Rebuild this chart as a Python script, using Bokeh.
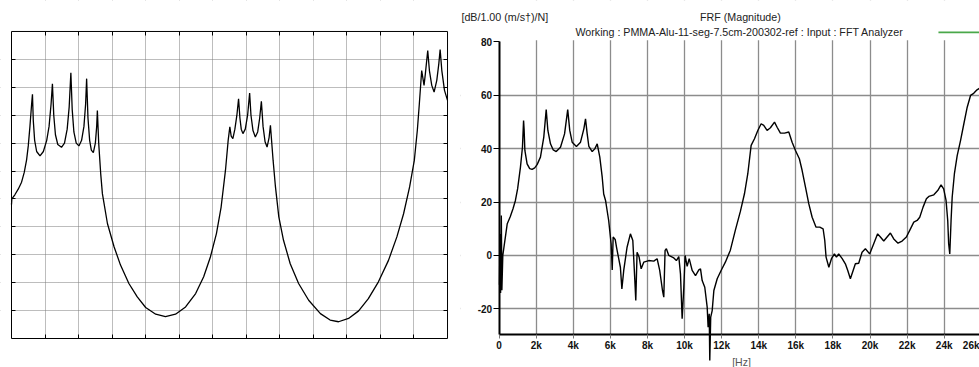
from bokeh.plotting import figure
from bokeh.models import FixedTicker, LinearAxis, BoxAnnotation, Label, Range1d
from bokeh.layouts import row
from bokeh.embed import file_html
from bokeh.resources import INLINE

# ---------------- data: left panel (model curve, arbitrary grid units) ----------------
model_x = [0.0, 0.01, 0.1, 0.2, 0.3, 0.38, 0.45, 0.5, 0.55, 0.6, 0.625,
           0.65, 0.69, 0.75, 0.85, 0.95, 1.05, 1.12, 1.18, 1.22,
           1.26, 1.31, 1.38, 1.49, 1.58, 1.66, 1.72, 1.77,
           1.81, 1.86, 1.93, 2.01, 2.09, 2.16, 2.21, 2.24,
           2.28, 2.33, 2.38, 2.44, 2.5, 2.54, 2.56,
           2.6, 2.66, 2.71, 2.86, 3.06, 3.25, 3.5, 3.75, 4.0, 4.3, 4.59, 4.89, 5.19,
           5.49, 5.73, 5.93, 6.11, 6.25, 6.38, 6.46, 6.51,
           6.55, 6.6, 6.66, 6.72, 6.77, 6.81, 6.85, 6.9, 6.97, 7.04, 7.1,
           7.14, 7.2, 7.27, 7.34, 7.4, 7.45, 7.5, 7.56, 7.62, 7.68, 7.72,
           7.8, 7.87, 7.97, 8.11, 8.31, 8.56, 8.86, 9.21, 9.5, 9.75, 10.05, 10.35,
           10.64, 10.94, 11.24, 11.49, 11.69, 11.87, 12.01, 12.1, 12.16, 12.23,
           12.3, 12.34, 12.41, 12.46, 12.53, 12.6, 12.68, 12.74, 12.78, 12.83, 12.91, 13.0]
model_y = [4.8, 5.0, 5.15, 5.35, 5.6, 5.95, 6.4, 6.9, 7.6, 8.4, 8.75,
           7.8, 7.1, 6.7, 6.54, 6.7, 7.1, 7.6, 8.4, 9.13,
           8.0, 7.3, 6.95, 6.85, 7.0, 7.5, 8.3, 9.52,
           8.2, 7.4, 7.0, 6.9, 7.1, 7.6, 8.4, 9.31,
           7.9, 7.1, 6.75, 6.66, 7.0, 7.6, 8.17,
           7.0, 5.9, 5.19, 4.12, 3.28, 2.63, 1.97, 1.49, 1.11, 0.87, 0.78, 0.87, 1.13,
           1.61, 2.21, 2.92, 3.76, 4.71, 6.03, 7.1, 7.58,
           7.25, 7.16, 7.5, 8.0, 8.59, 7.9, 7.5, 7.34, 7.5, 8.0, 8.79,
           8.0, 7.45, 7.22, 7.4, 7.9, 8.5, 7.6, 7.05, 6.86, 7.2, 7.64,
           6.38, 5.43, 4.36, 3.52, 2.68, 1.97, 1.37, 0.89, 0.66, 0.6, 0.72, 0.99,
           1.43, 2.03, 2.8, 3.64, 4.47, 5.43, 6.38, 7.46, 8.41, 9.6,
           9.07, 9.49, 10.32, 9.6, 9.07, 8.83, 9.25, 9.84, 10.35, 9.6, 8.89, 8.53]
model_grid_x = [1, 2, 3, 4, 5, 6, 7, 8, 9, 10, 11, 12]
model_grid_y = [1, 2, 3, 4, 5, 6, 7, 8, 9, 10]
model_x_end = 13
model_y_end = 11

# ---------------- data: right panel (FRF magnitude) ----------------
frf_khz = [0.02, 0.05, 0.08, 0.12, 0.15, 0.2, 0.3, 0.44, 0.6, 0.75, 0.88, 1.0, 1.15, 1.26, 1.32, 1.35,
           1.39, 1.51, 1.65, 1.78, 1.92, 2.05, 2.23, 2.41, 2.54, 2.63, 2.77, 2.92, 3.08, 3.31,
           3.53, 3.7, 3.81, 3.94, 4.17, 4.39, 4.57, 4.66, 4.75, 4.84, 5.02, 5.16, 5.29, 5.43,
           5.56, 5.64, 5.74, 5.91, 6.04, 6.1, 6.15, 6.26, 6.33, 6.45, 6.54, 6.62, 6.72, 6.9,
           7.08, 7.21, 7.32, 7.37, 7.44, 7.55, 7.66, 7.8, 8.07, 8.34, 8.52, 8.66, 8.81, 8.88,
           8.95, 9.02, 9.15, 9.42, 9.56, 9.69, 9.78, 9.87, 9.96, 10.03, 10.14, 10.25, 10.41,
           10.59, 10.77, 10.86, 10.95, 11.09, 11.22, 11.27, 11.33, 11.36, 11.41, 11.49, 11.58,
           11.76, 11.97, 12.2, 12.47, 12.74, 13.01, 13.23, 13.41, 13.59, 13.77, 13.95, 14.13,
           14.27, 14.45, 14.63, 14.85, 14.99, 15.17, 15.39, 15.62, 15.8, 15.98, 16.19, 16.34,
           16.52, 16.7, 16.88, 17.09, 17.29, 17.47, 17.56, 17.63, 17.78, 17.92, 18.08, 18.19,
           18.31, 18.5, 18.67, 18.8, 18.94, 19.09, 19.21, 19.39, 19.57, 19.75, 19.98, 20.2,
           20.41, 20.56, 20.74, 20.92, 21.1, 21.28, 21.51, 21.73, 21.96, 22.14, 22.36, 22.54,
           22.68, 22.86, 23.04, 23.17, 23.44, 23.65, 23.83, 23.97, 24.1, 24.19, 24.24, 24.3,
           24.37, 24.43, 24.55, 24.7, 24.88, 25.06, 25.24, 25.42, 25.59, 25.77, 25.95]
frf_db = [-11, 8, -14, 15, -13, 0, 5, 11.9, 14.5, 17.5, 20.6, 25, 33, 40.5, 50.5, 47,
          39.3, 34.3, 32.5, 32.2, 32.8, 34.0, 36.8, 44.3, 54.6, 46.8, 41.8, 39.5, 38.9, 40.5,
          45.5, 54.6, 46.8, 42.4, 40.8, 42.4, 47.4, 51.1, 45.5, 40.8, 38.9, 39.9, 41.8, 36.8,
          29.3, 23, 20.6, 13, 4.4, -5.4, 6.9, 6.0, 3.1, -1.2, -4.4, -12.5, -5.6, 3.1,
          8.1, 5.6, -9.4, -16.8, 1.2, -0.6, -5.0, -2.5, -1.9, -2.1, -1.2, -5.6, -13.1, -15.6,
          1.9, 2.5, 0, -0.9, -1.9, -0.4, -6.9, -23.7, -11.9, 0, -4.1, -1.2, -5.6,
          -7.5, -5.4, -5.0, -9.4, -11.9, -19.3, -26.8, -21.8, -39.3, -23.1, -20.6, -13.1,
          -8.7, -5.6, -2.5, 2.0, 9.5, 16.5, 23.1, 30.6, 41.2, 43.7, 46.8, 49.3,
          48.7, 46.8, 47.8, 49.9, 48.0, 45.8, 45.8, 46.2, 42.4, 39.3, 36.2, 31.8,
          25.6, 19.3, 14.3, 10.6, 10.6, 10.0, 5.6, -0.6, -4.4, -1.2, 0.6, -0.6,
          0.6, -1.2, -3.1, -5.6, -8.7, -5.6, -3.1, -2.9, 1.2, 2.5, 0.6, 4.4,
          8.1, 6.9, 5.4, 6.9, 8.4, 6.2, 4.6, 5.4, 6.9, 9.4, 12.5, 13.1,
          14.3, 18.1, 21.2, 22.1, 22.7, 24.3, 26.4, 24.9, 20.6, 13.1, 4.4, 0.6,
          13.1, 21.8, 30.6, 37.4, 43.0, 49.3, 55.5, 59.9, 60.7, 62.0, 62.8]

x_tick_vals = [0, 2, 4, 6, 8, 10, 12, 14, 16, 18, 20, 22, 24, 26]
x_tick_labels = ["0", "2k", "4k", "6k", "8k", "10k", "12k", "14k", "16k", "18k", "20k", "22k", "24k", "26k"]
y_tick_vals = [-20, 0, 20, 40, 60, 80]
y_tick_labels = ["-20", "0", "20", "40", "60", "80"]
y_floor = -29.5
x_end = 25.903

y_unit_text = "[dB/1.00 (m/s\u2020)/N]"
title_text = "FRF (Magnitude)"
subtitle_text = "Working : PMMA-Alu-11-seg-7.5cm-200302-ref : Input : FFT Analyzer"
x_unit_text = "[Hz]"

FONT = "Liberation Sans"


def white_box(fig, **kw):
    fig.add_layout(BoxAnnotation(fill_color="white", fill_alpha=1, line_alpha=0, level="underlay", **kw))


# ---------------- left figure (frame = whole canvas; box drawn inside) ----------------
left = figure(width=460, height=367, x_range=Range1d(-0.328, 13.387), y_range=Range1d(-1.039, 12.11),
              output_backend="svg", toolbar_location=None,
              min_border_left=0, min_border_right=0, min_border_top=0, min_border_bottom=0)
left.outline_line_alpha = 0
left.background_fill_color = "white"
left.border_fill_color = "white"

gx = FixedTicker(ticks=model_grid_x)
gy = FixedTicker(ticks=model_grid_y)
left.xgrid.ticker = gx
left.ygrid.ticker = gy
left.grid.grid_line_color = "#7a7a7a"
left.grid.grid_line_dash = "1 1"
left.grid.grid_line_width = 1
white_box(left, bottom=model_y_end)
white_box(left, top=0)
white_box(left, right=0)
white_box(left, left=model_x_end)

axis_style = dict(axis_line_alpha=0, major_tick_in=4, major_tick_out=0, minor_tick_line_alpha=0,
                  major_label_text_alpha=0, major_label_text_font_size="1px", major_label_standoff=0,
                  major_tick_line_color="black")
xa_l = left.xaxis[0]
ya_l = left.yaxis[0]
for k, v in axis_style.items():
    setattr(xa_l, k, v)
    setattr(ya_l, k, v)
xa_l.ticker = gx
ya_l.ticker = gy
xa_l.fixed_location = 0
ya_l.fixed_location = 0
xa_l.bounds = (0, model_x_end)
ya_l.bounds = (0, model_y_end)
left.add_layout(LinearAxis(ticker=gy, fixed_location=model_x_end, bounds=(0, model_y_end), **axis_style), "right")
left.add_layout(LinearAxis(ticker=gx, fixed_location=model_y_end, bounds=(0, model_x_end), **axis_style), "above")

left.line(model_x, model_y, line_color="black", line_width=1.3)
left.add_layout(BoxAnnotation(left=0, right=model_x_end, bottom=0, top=model_y_end, fill_alpha=0,
                              line_color="black", line_width=1, line_alpha=1))

# ---------------- right figure ----------------
right = figure(width=519, height=367, x_range=Range1d(-2.081, x_end), y_range=Range1d(-41.92, 95.43),
               output_backend="svg", toolbar_location=None,
               min_border_left=0, min_border_right=0, min_border_top=0, min_border_bottom=0)
right.outline_line_alpha = 0
right.background_fill_color = "white"
right.border_fill_color = "white"

xa = right.xaxis[0]
ya = right.yaxis[0]
xa.fixed_location = y_floor
ya.fixed_location = 0
xa.bounds = (0, x_end)
ya.bounds = (y_floor, y_tick_vals[-1])
xa.ticker = FixedTicker(ticks=x_tick_vals)
ya.ticker = FixedTicker(ticks=y_tick_vals)
xa.major_label_overrides = dict(zip(x_tick_vals, x_tick_labels))
ya.major_label_overrides = dict(zip(y_tick_vals, y_tick_labels))
for ax in (xa, ya):
    ax.axis_line_color = "black"
    ax.axis_line_width = 2
    ax.minor_tick_line_alpha = 0
    ax.major_label_text_font = FONT
    ax.major_label_text_font_size = "10px"
    ax.major_label_text_color = "#111111"
    ax.major_label_text_font_style = "bold"
    ax.major_tick_in = 0
xa.major_tick_out = 4
xa.major_tick_line_color = "#777777"
xa.major_label_standoff = 2
ya.major_tick_out = 6
ya.major_tick_line_color = "black"
ya.major_label_standoff = 1

right.xgrid.ticker = FixedTicker(ticks=x_tick_vals[1:-1])
right.ygrid.ticker = FixedTicker(ticks=y_tick_vals[:-1])
right.grid.grid_line_color = "#8c8c8c"
right.grid.grid_line_width = 1.3

white_box(right, bottom=80.6)
white_box(right, top=y_floor)
white_box(right, right=0)

right.line(frf_khz, frf_db, line_color="black", line_width=1.4)
right.line([23.69, x_end], [83.5, 83.5], line_color="#4aa84a", line_width=1.6)

lbl = dict(text_font=FONT, text_font_size="10.7px", text_color="#222222", text_baseline="middle")
right.add_layout(Label(x=-2.03, y=89.1, text=y_unit_text, text_align="left", **lbl))
right.add_layout(Label(x=13.01, y=89.1, text=title_text, text_align="center", **lbl))
right.add_layout(Label(x=12.96, y=83.6, text=subtitle_text, text_align="center", **lbl))
right.add_layout(Label(x=13.07, y=-40.0, text=x_unit_text, text_align="center",
                       text_font=FONT, text_font_size="10.5px", text_color="#555555", text_baseline="middle"))
right.add_layout(Label(x=x_end, y=y_floor, y_offset=-6, text=x_tick_labels[-1], text_align="right",
                       text_font=FONT, text_font_size="10px", text_font_style="bold",
                       text_color="#111111", text_baseline="top"))

p = row(left, right, spacing=0)
open("out.html", "w").write(file_html(p, INLINE))
